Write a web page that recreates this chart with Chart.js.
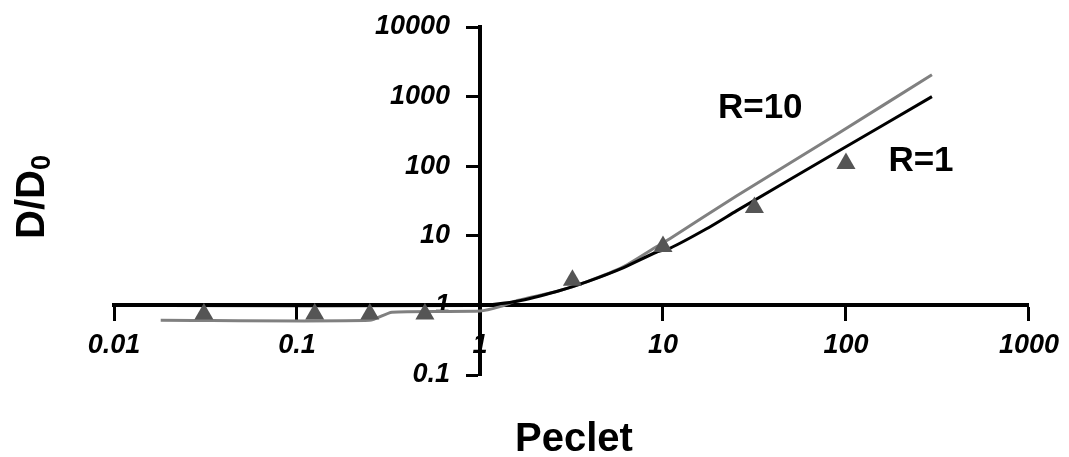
<!DOCTYPE html>
<html lang="en">
<head>
<meta charset="UTF-8">
<title>D/D0 vs Peclet</title>
<script src="https://cdn.jsdelivr.net/npm/chart.js@4.4.0/dist/chart.umd.min.js"></script>
<style>
  html, body { margin: 0; padding: 0; background: #fff; }
</style>
</head>
<body>
<canvas id="chart" width="1069" height="457"></canvas>
<script>
// tick values on both log axes
const xTicks = [0.01, 0.1, 1, 10, 100, 1000];
const yTicks = [0.1, 1, 10, 100, 1000, 10000];

// R=1 curve (black)
const pecletR1 = [0.018, 1, 1.6, 2.65, 3.86, 6.1, 9.25, 10.9, 17.3, 25.2, 87.8, 295];
const ddR1     = [1, 1, 1.15, 1.6, 2.2, 3.5, 5.85, 6.6, 12.6, 22.8, 156, 1000];

// R=10 curve (grey)
const pecletR10 = [0.018, 0.25, 0.33, 1, 1.3, 1.6, 2.65, 3.86, 6.1, 9.25, 10.9, 25.2, 87.8, 295];
const ddR10     = [0.61, 0.61, 0.8, 0.83, 0.97, 1.18, 1.6, 2.2, 3.6, 7.0, 9.1, 37.3, 281, 2065];

// measured points (triangles)
const pecletMeas = [0.031, 0.125, 0.25, 0.5, 3.2, 10, 31.6, 100];
const ddMeas     = [0.75, 0.75, 0.75, 0.75, 2.3, 7, 25.5, 109];

const toXY = (xs, ys) => xs.map((x, i) => ({ x: x, y: ys[i] }));

const FONT = 'Liberation Sans, Arial, sans-serif';

// axis titles and curve labels
const textPlugin = {
  id: 'texts',
  afterDraw(chart) {
    const c = chart.ctx;
    const sx = chart.scales.x, sy = chart.scales.y;
    c.save();
    c.fillStyle = '#000';
    c.textBaseline = 'middle';
    c.textAlign = 'center';
    c.font = 'bold 35px ' + FONT;
    c.fillText('R=10', sx.getPixelForValue(34), sy.getPixelForValue(685));
    c.fillText('R=1', sx.getPixelForValue(257), sy.getPixelForValue(119));

    c.font = 'bold 40px ' + FONT;
    c.textBaseline = 'alphabetic';
    c.fillText('Peclet', 574, 451);

    // D/D0 rotated
    c.translate(44, 197);
    c.rotate(-Math.PI / 2);
    c.font = 'bold 40px ' + FONT;
    const w1 = c.measureText('D/D').width;
    c.font = 'bold 27px ' + FONT;
    const w2 = c.measureText('0').width;
    const start = -(w1 + w2) / 2;
    c.textAlign = 'left';
    c.font = 'bold 40px ' + FONT;
    c.fillText('D/D', start, 0);
    c.font = 'bold 27px ' + FONT;
    c.fillText('0', start + w1, 6);
    c.restore();
  }
};

const tickFont = { family: FONT, size: 27, weight: 'bold', style: 'italic' };

new Chart(document.getElementById('chart'), {
  type: 'scatter',
  data: {
    datasets: [
      {
        label: 'Measured',
        data: toXY(pecletMeas, ddMeas),
        showLine: false,
        pointStyle: 'triangle',
        pointRadius: 11,
        backgroundColor: '#555555',
        borderColor: '#555555',
        borderWidth: 0,
        order: 0
      },
      {
        label: 'R=1',
        data: toXY(pecletR1, ddR1),
        showLine: true,
        borderColor: '#000000',
        borderWidth: 3,
        pointRadius: 0,
        tension: 0.2,
        order: 1
      },
      {
        label: 'R=10',
        data: toXY(pecletR10, ddR10),
        showLine: true,
        borderColor: '#808080',
        borderWidth: 3,
        pointRadius: 0,
        tension: 0.2,
        order: 2
      }
    ]
  },
  options: {
    responsive: false,
    animation: false,
    layout: { padding: { left: 114, right: 34, top: 27, bottom: 82 } },
    plugins: {
      legend: { display: false },
      tooltip: { enabled: false }
    },
    scales: {
      x: {
        type: 'logarithmic',
        min: 0.01,
        max: 1000,
        position: { y: 1 },
        afterFit: s => { s.height = 0; },
        afterBuildTicks: s => { s.ticks = xTicks.map(v => ({ value: v })); },
        border: { display: true, color: '#000', width: 4 },
        grid: { display: true, drawOnChartArea: false, drawTicks: true, tickLength: 14, tickWidth: 3, tickColor: '#000' },
        ticks: {
          autoSkip: false,
          maxRotation: 0,
          padding: 10,
          color: '#000',
          font: tickFont,
          callback: v => String(v)
        }
      },
      y: {
        type: 'logarithmic',
        min: 0.1,
        max: 10000,
        position: { x: 1 },
        afterFit: s => { s.width = 0; },
        afterBuildTicks: s => { s.ticks = yTicks.map(v => ({ value: v })); },
        border: { display: true, color: '#000', width: 4 },
        grid: { display: true, drawOnChartArea: false, drawTicks: true, tickLength: 12, tickWidth: 3, tickColor: '#000' },
        ticks: {
          autoSkip: false,
          color: '#000',
          font: tickFont,
          // labels sit right-aligned on the axis itself, so pad them off it
          callback: v => String(v) + '    '
        }
      }
    }
  },
  plugins: [textPlugin]
});
</script>
</body>
</html>
